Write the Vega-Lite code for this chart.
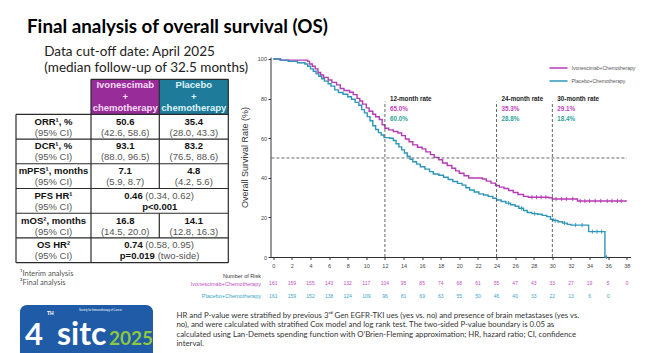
{
  "$schema": "https://vega.github.io/schema/vega-lite/v6.json",
  "width": 360,
  "height": 200,
  "autosize": {"type": "none"},
  "padding": {"left": 270.5, "top": 57, "right": 32.5, "bottom": 96},
  "background": "white",
  "config": {"view": {"stroke": null}, "font": "Liberation Sans"},
  "title": {
    "text": "Final analysis of overall survival (OS)",
    "subtitle": ["\u200b\u00a0\u00a0\u00a0\u00a0\u00a0Data cut-off date: April 2025", "\u200b\u00a0\u00a0\u00a0\u00a0\u00a0(median follow-up of 32.5 months)"],
    "anchor": "start",
    "frame": "group",
    "dx": -243.5,
    "offset": -18,
    "font": "Lato",
    "fontSize": 18.8,
    "fontWeight": "bold",
    "color": "#000000",
    "subtitleFont": "Lato",
    "subtitleFontSize": 13.5,
    "subtitleColor": "#222222",
    "subtitleLineHeight": 16,
    "subtitlePadding": 8
  },
  "datasets": {
    "km": [
      {"arm": "Ivonescimab+Chemotherapy", "month": 0, "pct": 100},
      {"arm": "Ivonescimab+Chemotherapy", "month": 0.8, "pct": 99.4},
      {"arm": "Ivonescimab+Chemotherapy", "month": 3.7, "pct": 98.8},
      {"arm": "Ivonescimab+Chemotherapy", "month": 3.9, "pct": 97.5},
      {"arm": "Ivonescimab+Chemotherapy", "month": 4.2, "pct": 96.3},
      {"arm": "Ivonescimab+Chemotherapy", "month": 4.5, "pct": 95},
      {"arm": "Ivonescimab+Chemotherapy", "month": 4.8, "pct": 93.2},
      {"arm": "Ivonescimab+Chemotherapy", "month": 5.1, "pct": 91.9},
      {"arm": "Ivonescimab+Chemotherapy", "month": 5.4, "pct": 90.7},
      {"arm": "Ivonescimab+Chemotherapy", "month": 5.9, "pct": 89.4},
      {"arm": "Ivonescimab+Chemotherapy", "month": 6.3, "pct": 88.2},
      {"arm": "Ivonescimab+Chemotherapy", "month": 6.8, "pct": 86.9},
      {"arm": "Ivonescimab+Chemotherapy", "month": 7.2, "pct": 85.1},
      {"arm": "Ivonescimab+Chemotherapy", "month": 7.6, "pct": 84.1},
      {"arm": "Ivonescimab+Chemotherapy", "month": 8.2, "pct": 83.2},
      {"arm": "Ivonescimab+Chemotherapy", "month": 8.6, "pct": 82},
      {"arm": "Ivonescimab+Chemotherapy", "month": 9, "pct": 80.1},
      {"arm": "Ivonescimab+Chemotherapy", "month": 9.3, "pct": 78.8},
      {"arm": "Ivonescimab+Chemotherapy", "month": 9.6, "pct": 77.2},
      {"arm": "Ivonescimab+Chemotherapy", "month": 10, "pct": 75.3},
      {"arm": "Ivonescimab+Chemotherapy", "month": 10.3, "pct": 73.6},
      {"arm": "Ivonescimab+Chemotherapy", "month": 10.7, "pct": 72.1},
      {"arm": "Ivonescimab+Chemotherapy", "month": 11, "pct": 70.8},
      {"arm": "Ivonescimab+Chemotherapy", "month": 11.4, "pct": 69.4},
      {"arm": "Ivonescimab+Chemotherapy", "month": 11.7, "pct": 66.8},
      {"arm": "Ivonescimab+Chemotherapy", "month": 12, "pct": 65},
      {"arm": "Ivonescimab+Chemotherapy", "month": 12.4, "pct": 64.2},
      {"arm": "Ivonescimab+Chemotherapy", "month": 12.9, "pct": 63.4},
      {"arm": "Ivonescimab+Chemotherapy", "month": 13.4, "pct": 62.6},
      {"arm": "Ivonescimab+Chemotherapy", "month": 13.8, "pct": 61.3},
      {"arm": "Ivonescimab+Chemotherapy", "month": 14.2, "pct": 59.6},
      {"arm": "Ivonescimab+Chemotherapy", "month": 14.6, "pct": 58.2},
      {"arm": "Ivonescimab+Chemotherapy", "month": 15, "pct": 56.6},
      {"arm": "Ivonescimab+Chemotherapy", "month": 15.5, "pct": 55.4},
      {"arm": "Ivonescimab+Chemotherapy", "month": 16, "pct": 54.6},
      {"arm": "Ivonescimab+Chemotherapy", "month": 16.4, "pct": 53.1},
      {"arm": "Ivonescimab+Chemotherapy", "month": 16.9, "pct": 51.7},
      {"arm": "Ivonescimab+Chemotherapy", "month": 17.3, "pct": 50.3},
      {"arm": "Ivonescimab+Chemotherapy", "month": 17.8, "pct": 49.1},
      {"arm": "Ivonescimab+Chemotherapy", "month": 18.2, "pct": 47.5},
      {"arm": "Ivonescimab+Chemotherapy", "month": 18.7, "pct": 46.2},
      {"arm": "Ivonescimab+Chemotherapy", "month": 19.2, "pct": 44.8},
      {"arm": "Ivonescimab+Chemotherapy", "month": 19.6, "pct": 43.5},
      {"arm": "Ivonescimab+Chemotherapy", "month": 20, "pct": 42.3},
      {"arm": "Ivonescimab+Chemotherapy", "month": 20.5, "pct": 41},
      {"arm": "Ivonescimab+Chemotherapy", "month": 21, "pct": 39.9},
      {"arm": "Ivonescimab+Chemotherapy", "month": 22.5, "pct": 39.4},
      {"arm": "Ivonescimab+Chemotherapy", "month": 22.9, "pct": 38.3},
      {"arm": "Ivonescimab+Chemotherapy", "month": 23.4, "pct": 37.3},
      {"arm": "Ivonescimab+Chemotherapy", "month": 23.9, "pct": 36.1},
      {"arm": "Ivonescimab+Chemotherapy", "month": 24.3, "pct": 35.3},
      {"arm": "Ivonescimab+Chemotherapy", "month": 24.8, "pct": 34.6},
      {"arm": "Ivonescimab+Chemotherapy", "month": 25.3, "pct": 33.6},
      {"arm": "Ivonescimab+Chemotherapy", "month": 25.8, "pct": 32.6},
      {"arm": "Ivonescimab+Chemotherapy", "month": 26.3, "pct": 31.6},
      {"arm": "Ivonescimab+Chemotherapy", "month": 26.9, "pct": 30.6},
      {"arm": "Ivonescimab+Chemotherapy", "month": 27.4, "pct": 30.2},
      {"arm": "Ivonescimab+Chemotherapy", "month": 29.6, "pct": 29.9},
      {"arm": "Ivonescimab+Chemotherapy", "month": 30, "pct": 29.3},
      {"arm": "Ivonescimab+Chemotherapy", "month": 32.7, "pct": 28.3},
      {"arm": "Ivonescimab+Chemotherapy", "month": 38, "pct": 28.3},
      {"arm": "Placebo+Chemotherapy", "month": 0, "pct": 100},
      {"arm": "Placebo+Chemotherapy", "month": 0.7, "pct": 99.4},
      {"arm": "Placebo+Chemotherapy", "month": 1.6, "pct": 98.8},
      {"arm": "Placebo+Chemotherapy", "month": 2.6, "pct": 98.1},
      {"arm": "Placebo+Chemotherapy", "month": 3.4, "pct": 97.5},
      {"arm": "Placebo+Chemotherapy", "month": 3.7, "pct": 96.3},
      {"arm": "Placebo+Chemotherapy", "month": 4, "pct": 95},
      {"arm": "Placebo+Chemotherapy", "month": 4.3, "pct": 93.8},
      {"arm": "Placebo+Chemotherapy", "month": 4.6, "pct": 92.5},
      {"arm": "Placebo+Chemotherapy", "month": 4.9, "pct": 91.3},
      {"arm": "Placebo+Chemotherapy", "month": 5.2, "pct": 90},
      {"arm": "Placebo+Chemotherapy", "month": 5.5, "pct": 88.8},
      {"arm": "Placebo+Chemotherapy", "month": 5.9, "pct": 87.5},
      {"arm": "Placebo+Chemotherapy", "month": 6.2, "pct": 86.3},
      {"arm": "Placebo+Chemotherapy", "month": 6.6, "pct": 84.4},
      {"arm": "Placebo+Chemotherapy", "month": 7, "pct": 83.1},
      {"arm": "Placebo+Chemotherapy", "month": 7.5, "pct": 82.2},
      {"arm": "Placebo+Chemotherapy", "month": 8, "pct": 80.9},
      {"arm": "Placebo+Chemotherapy", "month": 8.4, "pct": 79.7},
      {"arm": "Placebo+Chemotherapy", "month": 8.8, "pct": 78.1},
      {"arm": "Placebo+Chemotherapy", "month": 9.2, "pct": 76.6},
      {"arm": "Placebo+Chemotherapy", "month": 9.5, "pct": 74.4},
      {"arm": "Placebo+Chemotherapy", "month": 9.8, "pct": 72.8},
      {"arm": "Placebo+Chemotherapy", "month": 10.1, "pct": 70.9},
      {"arm": "Placebo+Chemotherapy", "month": 10.4, "pct": 68.8},
      {"arm": "Placebo+Chemotherapy", "month": 10.7, "pct": 66.3},
      {"arm": "Placebo+Chemotherapy", "month": 11, "pct": 64.4},
      {"arm": "Placebo+Chemotherapy", "month": 11.3, "pct": 62.8},
      {"arm": "Placebo+Chemotherapy", "month": 11.6, "pct": 61.6},
      {"arm": "Placebo+Chemotherapy", "month": 11.9, "pct": 60.3},
      {"arm": "Placebo+Chemotherapy", "month": 12.5, "pct": 60},
      {"arm": "Placebo+Chemotherapy", "month": 12.9, "pct": 58.8},
      {"arm": "Placebo+Chemotherapy", "month": 13.2, "pct": 57.2},
      {"arm": "Placebo+Chemotherapy", "month": 13.5, "pct": 55.6},
      {"arm": "Placebo+Chemotherapy", "month": 13.8, "pct": 54.1},
      {"arm": "Placebo+Chemotherapy", "month": 14.1, "pct": 52.5},
      {"arm": "Placebo+Chemotherapy", "month": 14.4, "pct": 50.9},
      {"arm": "Placebo+Chemotherapy", "month": 14.7, "pct": 49.4},
      {"arm": "Placebo+Chemotherapy", "month": 15, "pct": 48.1},
      {"arm": "Placebo+Chemotherapy", "month": 15.4, "pct": 46.9},
      {"arm": "Placebo+Chemotherapy", "month": 15.8, "pct": 45.6},
      {"arm": "Placebo+Chemotherapy", "month": 16.3, "pct": 44.4},
      {"arm": "Placebo+Chemotherapy", "month": 16.8, "pct": 43.1},
      {"arm": "Placebo+Chemotherapy", "month": 17.2, "pct": 41.9},
      {"arm": "Placebo+Chemotherapy", "month": 17.8, "pct": 41.3},
      {"arm": "Placebo+Chemotherapy", "month": 18.3, "pct": 40.3},
      {"arm": "Placebo+Chemotherapy", "month": 18.8, "pct": 39.1},
      {"arm": "Placebo+Chemotherapy", "month": 19.3, "pct": 38.1},
      {"arm": "Placebo+Chemotherapy", "month": 19.8, "pct": 37.2},
      {"arm": "Placebo+Chemotherapy", "month": 20.3, "pct": 36.3},
      {"arm": "Placebo+Chemotherapy", "month": 20.7, "pct": 35},
      {"arm": "Placebo+Chemotherapy", "month": 21.1, "pct": 33.8},
      {"arm": "Placebo+Chemotherapy", "month": 21.6, "pct": 32.8},
      {"arm": "Placebo+Chemotherapy", "month": 22.1, "pct": 31.9},
      {"arm": "Placebo+Chemotherapy", "month": 22.6, "pct": 31.3},
      {"arm": "Placebo+Chemotherapy", "month": 23.1, "pct": 30.6},
      {"arm": "Placebo+Chemotherapy", "month": 23.6, "pct": 29.7},
      {"arm": "Placebo+Chemotherapy", "month": 24, "pct": 28.8},
      {"arm": "Placebo+Chemotherapy", "month": 24.5, "pct": 28},
      {"arm": "Placebo+Chemotherapy", "month": 25, "pct": 27.2},
      {"arm": "Placebo+Chemotherapy", "month": 25.5, "pct": 26.4},
      {"arm": "Placebo+Chemotherapy", "month": 26, "pct": 25.6},
      {"arm": "Placebo+Chemotherapy", "month": 26.4, "pct": 24.6},
      {"arm": "Placebo+Chemotherapy", "month": 26.9, "pct": 23.5},
      {"arm": "Placebo+Chemotherapy", "month": 27.3, "pct": 22.5},
      {"arm": "Placebo+Chemotherapy", "month": 27.8, "pct": 21.9},
      {"arm": "Placebo+Chemotherapy", "month": 28.4, "pct": 21.6},
      {"arm": "Placebo+Chemotherapy", "month": 28.9, "pct": 21},
      {"arm": "Placebo+Chemotherapy", "month": 29.4, "pct": 20.4},
      {"arm": "Placebo+Chemotherapy", "month": 29.8, "pct": 19.1},
      {"arm": "Placebo+Chemotherapy", "month": 30.1, "pct": 18.4},
      {"arm": "Placebo+Chemotherapy", "month": 30.6, "pct": 17.8},
      {"arm": "Placebo+Chemotherapy", "month": 31.1, "pct": 17.1},
      {"arm": "Placebo+Chemotherapy", "month": 31.6, "pct": 16.5},
      {"arm": "Placebo+Chemotherapy", "month": 32, "pct": 16.1},
      {"arm": "Placebo+Chemotherapy", "month": 33.8, "pct": 16.1},
      {"arm": "Placebo+Chemotherapy", "month": 33.9, "pct": 12.8},
      {"arm": "Placebo+Chemotherapy", "month": 35.6, "pct": 12.8},
      {"arm": "Placebo+Chemotherapy", "month": 35.65, "pct": 0},
      {"arm": "Placebo+Chemotherapy", "month": 35.9, "pct": 0}
    ],
    "censor": [
      {"arm": "Ivonescimab+Chemotherapy", "month": 27.8, "pct": 30.2},
      {"arm": "Ivonescimab+Chemotherapy", "month": 28.3, "pct": 30.2},
      {"arm": "Ivonescimab+Chemotherapy", "month": 28.8, "pct": 30.2},
      {"arm": "Ivonescimab+Chemotherapy", "month": 29.3, "pct": 30.2},
      {"arm": "Ivonescimab+Chemotherapy", "month": 30.4, "pct": 29.3},
      {"arm": "Ivonescimab+Chemotherapy", "month": 31, "pct": 29.3},
      {"arm": "Ivonescimab+Chemotherapy", "month": 31.5, "pct": 29.3},
      {"arm": "Ivonescimab+Chemotherapy", "month": 32.2, "pct": 29.3},
      {"arm": "Ivonescimab+Chemotherapy", "month": 33, "pct": 28.3},
      {"arm": "Ivonescimab+Chemotherapy", "month": 33.5, "pct": 28.3},
      {"arm": "Ivonescimab+Chemotherapy", "month": 34, "pct": 28.3},
      {"arm": "Ivonescimab+Chemotherapy", "month": 34.6, "pct": 28.3},
      {"arm": "Ivonescimab+Chemotherapy", "month": 35.2, "pct": 28.3},
      {"arm": "Ivonescimab+Chemotherapy", "month": 35.9, "pct": 28.3},
      {"arm": "Ivonescimab+Chemotherapy", "month": 36.4, "pct": 28.3},
      {"arm": "Ivonescimab+Chemotherapy", "month": 37, "pct": 28.3},
      {"arm": "Ivonescimab+Chemotherapy", "month": 37.4, "pct": 28.3},
      {"arm": "Placebo+Chemotherapy", "month": 25.3, "pct": 27.2},
      {"arm": "Placebo+Chemotherapy", "month": 26.7, "pct": 24.6},
      {"arm": "Placebo+Chemotherapy", "month": 28.1, "pct": 21.9},
      {"arm": "Placebo+Chemotherapy", "month": 30.3, "pct": 18.4},
      {"arm": "Placebo+Chemotherapy", "month": 31.3, "pct": 17.1},
      {"arm": "Placebo+Chemotherapy", "month": 32.5, "pct": 16.1},
      {"arm": "Placebo+Chemotherapy", "month": 33.2, "pct": 16.1},
      {"arm": "Placebo+Chemotherapy", "month": 34.3, "pct": 12.8},
      {"arm": "Placebo+Chemotherapy", "month": 34.8, "pct": 12.8},
      {"arm": "Placebo+Chemotherapy", "month": 35.3, "pct": 12.8},
      {"arm": "Placebo+Chemotherapy", "month": 35.8, "pct": 0}
    ],
    "rates": [
      {"month": 12, "head": "12-month rate", "ivo": "65.0%", "pla": "60.0%"},
      {"month": 24, "head": "24-month rate", "ivo": "35.3%", "pla": "28.8%"},
      {"month": 30, "head": "30-month rate", "ivo": "29.1%", "pla": "18.4%"}
    ],
    "risk": [
      {"arm": "Ivonescimab+Chemotherapy", "month": 0, "n": 161},
      {"arm": "Ivonescimab+Chemotherapy", "month": 2, "n": 159},
      {"arm": "Ivonescimab+Chemotherapy", "month": 4, "n": 155},
      {"arm": "Ivonescimab+Chemotherapy", "month": 6, "n": 143},
      {"arm": "Ivonescimab+Chemotherapy", "month": 8, "n": 132},
      {"arm": "Ivonescimab+Chemotherapy", "month": 10, "n": 117},
      {"arm": "Ivonescimab+Chemotherapy", "month": 12, "n": 104},
      {"arm": "Ivonescimab+Chemotherapy", "month": 14, "n": 95},
      {"arm": "Ivonescimab+Chemotherapy", "month": 16, "n": 85},
      {"arm": "Ivonescimab+Chemotherapy", "month": 18, "n": 74},
      {"arm": "Ivonescimab+Chemotherapy", "month": 20, "n": 68},
      {"arm": "Ivonescimab+Chemotherapy", "month": 22, "n": 61},
      {"arm": "Ivonescimab+Chemotherapy", "month": 24, "n": 55},
      {"arm": "Ivonescimab+Chemotherapy", "month": 26, "n": 47},
      {"arm": "Ivonescimab+Chemotherapy", "month": 28, "n": 43},
      {"arm": "Ivonescimab+Chemotherapy", "month": 30, "n": 33},
      {"arm": "Ivonescimab+Chemotherapy", "month": 32, "n": 27},
      {"arm": "Ivonescimab+Chemotherapy", "month": 34, "n": 19},
      {"arm": "Ivonescimab+Chemotherapy", "month": 36, "n": 5},
      {"arm": "Ivonescimab+Chemotherapy", "month": 38, "n": 0},
      {"arm": "Placebo+Chemotherapy", "month": 0, "n": 161},
      {"arm": "Placebo+Chemotherapy", "month": 2, "n": 159},
      {"arm": "Placebo+Chemotherapy", "month": 4, "n": 152},
      {"arm": "Placebo+Chemotherapy", "month": 6, "n": 138},
      {"arm": "Placebo+Chemotherapy", "month": 8, "n": 124},
      {"arm": "Placebo+Chemotherapy", "month": 10, "n": 109},
      {"arm": "Placebo+Chemotherapy", "month": 12, "n": 96},
      {"arm": "Placebo+Chemotherapy", "month": 14, "n": 81},
      {"arm": "Placebo+Chemotherapy", "month": 16, "n": 69},
      {"arm": "Placebo+Chemotherapy", "month": 18, "n": 63},
      {"arm": "Placebo+Chemotherapy", "month": 20, "n": 55},
      {"arm": "Placebo+Chemotherapy", "month": 22, "n": 50},
      {"arm": "Placebo+Chemotherapy", "month": 24, "n": 46},
      {"arm": "Placebo+Chemotherapy", "month": 26, "n": 40},
      {"arm": "Placebo+Chemotherapy", "month": 28, "n": 33},
      {"arm": "Placebo+Chemotherapy", "month": 30, "n": 22},
      {"arm": "Placebo+Chemotherapy", "month": 32, "n": 13},
      {"arm": "Placebo+Chemotherapy", "month": 34, "n": 6},
      {"arm": "Placebo+Chemotherapy", "month": 36, "n": 0}
    ],
    "tbl": [
      {"r": 1, "col": 0, "b1": "ORR¹, %", "n2": "(95% CI)"},
      {"r": 1, "col": 1, "b1": "50.6", "n2": "(42.6, 58.6)"},
      {"r": 1, "col": 2, "b1": "35.4", "n2": "(28.0, 43.3)"},
      {"r": 2, "col": 0, "b1": "DCR¹, %", "n2": "(95% CI)"},
      {"r": 2, "col": 1, "b1": "93.1", "n2": "(88.0, 96.5)"},
      {"r": 2, "col": 2, "b1": "83.2", "n2": "(76.5, 88.6)"},
      {"r": 3, "col": 0, "b1": "mPFS¹, months", "n2": "(95% CI)"},
      {"r": 3, "col": 1, "b1": "7.1", "n2": "(5.9, 8.7)"},
      {"r": 3, "col": 2, "b1": "4.8", "n2": "(4.2, 5.6)"},
      {"r": 4, "col": 0, "b1": "PFS HR¹", "n2": "(95% CI)"},
      {"r": 4, "col": 1.5, "hb": "0.46", "hn": "(0.34, 0.62)", "pc": "p<0.001"},
      {"r": 5, "col": 0, "b1": "mOS², months", "n2": "(95% CI)"},
      {"r": 5, "col": 1, "b1": "16.8", "n2": "(14.5, 20.0)"},
      {"r": 5, "col": 2, "b1": "14.1", "n2": "(12.8, 16.3)"},
      {"r": 6, "col": 0, "b1": "OS HR²", "n2": "(95% CI)"},
      {"r": 6, "col": 1.5, "hb": "0.74", "hn": "(0.58, 0.95)", "pb": "p=0.019", "pn": "(two-side)"}
    ]
  },
  "layer": [
    {
      "layer": [
        {
          "data": {"name": "km"},
          "mark": {"type": "line", "interpolate": "step-after", "strokeWidth": 1.4},
          "encoding": {
            "x": {
              "field": "month", "type": "quantitative",
              "scale": {"domain": [-0.3, 38.4], "nice": false, "zero": false},
              "axis": {
                "values": [0, 2, 4, 6, 8, 10, 12, 14, 16, 18, 20, 22, 24, 26, 28, 30, 32, 34, 36, 38],
                "tickCount": 20, "labelOverlap": false, "labelFlush": false,
                "grid": false, "labelFontSize": 5.5, "labelColor": "#444444", "tickSize": 2.5,
                "labelPadding": 3.5, "domainColor": "#333333", "tickColor": "#333333",
                "title": [
                  "HR and P-value were stratified by previous 3ʳᵈ Gen EGFR-TKI ues (yes vs. no) and presence of brain metastases (yes vs.",
                  "no), and were calculated with stratified Cox model and log rank test. The two-sided P-value boundary is 0.05 as",
                  "calculated using Lan-Demets spending function with O’Brien-Fleming approximation; HR, hazard ratio; CI, confidence",
                  "interval."
                ],
                "titleX": -94.5, "titleY": 54.5, "titleAlign": "left", "titleAnchor": "start", "titleBaseline": "top",
                "titleFont": "Lato", "titleFontSize": 7.8, "titleFontWeight": "normal", "titleColor": "#333333",
                "titleLineHeight": 9.4, "titleLimit": 2000
              }
            },
            "y": {
              "field": "pct", "type": "quantitative",
              "scale": {"domain": [0, 101], "nice": false, "zero": false},
              "axis": {
                "values": [0, 10, 20, 30, 40, 50, 60, 70, 80, 90, 100],
                "tickCount": 10, "labelOverlap": false, "labelFlush": false,
                "grid": false, "title": "Overall Survival Rate (%)", "titleFontSize": 9, "titleFontWeight": "normal",
                "titleColor": "#333333", "titlePadding": 8, "labelFontSize": 5.5, "labelColor": "#444444",
                "tickSize": 2.5, "labelPadding": 1.5, "domainColor": "#333333", "tickColor": "#333333"
              }
            },
            "color": {
              "field": "arm", "type": "nominal",
              "scale": {"domain": ["Ivonescimab+Chemotherapy", "Placebo+Chemotherapy"], "range": ["#B53BB5", "#2E96B8"]},
              "legend": {
                "orient": "none", "legendX": 278, "legendY": 1, "title": null, "symbolType": "stroke",
                "symbolSize": 324, "symbolStrokeWidth": 1.5, "labelFontSize": 5, "labelColor": "#555555",
                "rowPadding": -12, "labelOffset": 3, "padding": 0
              }
            }
          }
        },
        {
          "data": {"values": [{"pct": 50}]},
          "mark": {"type": "rule", "strokeDash": [3, 2], "color": "#555555", "strokeWidth": 0.9},
          "encoding": {
            "y": {"field": "pct", "type": "quantitative"},
            "x": {"datum": -0.2, "type": "quantitative"},
            "x2": {"datum": 38}
          }
        },
        {
          "data": {"values": [{"month": 12}, {"month": 24}, {"month": 30}]},
          "mark": {"type": "rule", "strokeDash": [3, 2], "color": "#555555", "strokeWidth": 0.9},
          "encoding": {
            "x": {"field": "month", "type": "quantitative"},
            "y": {"datum": 0, "type": "quantitative"},
            "y2": {"datum": 78.5}
          }
        },
        {
          "data": {"name": "censor"},
          "mark": {"type": "point", "shape": "M0,-1L0,1", "size": 18, "filled": false, "strokeWidth": 0.9, "opacity": 1},
          "encoding": {
            "x": {"field": "month", "type": "quantitative"},
            "y": {"field": "pct", "type": "quantitative"},
            "color": {"field": "arm", "type": "nominal"}
          }
        },
        {
          "data": {"name": "rates"},
          "mark": {"type": "text", "align": "left", "baseline": "middle", "dx": 5, "fontSize": 6.3, "fontWeight": "bold", "color": "#222222"},
          "encoding": {
            "x": {"field": "month", "type": "quantitative"},
            "y": {"datum": 79.6, "type": "quantitative"},
            "text": {"field": "head"}
          }
        },
        {
          "data": {"name": "rates"},
          "mark": {"type": "text", "align": "left", "baseline": "middle", "dx": 5, "dy": 9.7, "fontSize": 6.3, "fontWeight": "bold", "color": "#C040C0"},
          "encoding": {
            "x": {"field": "month", "type": "quantitative"},
            "y": {"datum": 79.6, "type": "quantitative"},
            "text": {"field": "ivo"}
          }
        },
        {
          "data": {"name": "rates"},
          "mark": {"type": "text", "align": "left", "baseline": "middle", "dx": 5, "dy": 19.4, "fontSize": 6.3, "fontWeight": "bold", "color": "#2FA39B"},
          "encoding": {
            "x": {"field": "month", "type": "quantitative"},
            "y": {"datum": 79.6, "type": "quantitative"},
            "text": {"field": "pla"}
          }
        }
      ]
    },
    {
      "data": {"name": "risk"},
      "mark": {"type": "text", "fontSize": 5, "baseline": "middle"},
      "encoding": {
        "x": {"field": "month", "type": "quantitative", "scale": {"domain": [-0.3, 38.4], "nice": false, "zero": false}, "axis": null},
        "y": {
          "field": "arm", "type": "nominal",
          "scale": {"type": "point", "domain": ["Ivonescimab+Chemotherapy", "Placebo+Chemotherapy"], "range": [226.3, 238.7], "padding": 0},
          "axis": {
            "orient": "left", "domain": false, "ticks": false, "grid": false, "labelPadding": 10,
            "labelFontSize": 5.5,
            "labelColor": {"condition": {"test": "datum.value === 'Placebo+Chemotherapy'", "value": "#3AA6C6"}, "value": "#C24FC2"},
            "title": "Number of Risk", "titleAngle": 0, "titleAlign": "right", "titleBaseline": "middle",
            "titleX": -10, "titleY": 218, "titleFontSize": 5.5, "titleFontWeight": "normal", "titleColor": "#333333"
          }
        },
        "text": {"field": "n"},
        "color": {"condition": {"test": "datum.arm === 'Placebo+Chemotherapy'", "value": "#3AA6C6"}, "value": "#C24FC2"}
      }
    },
    {
      "layer": [
        {
          "data": {"values": [{"arm": "ivo", "c0": 1, "c1": 2}, {"arm": "pla", "c0": 2, "c1": 3}]},
          "mark": {"type": "rect"},
          "encoding": {
            "x": {"field": "c0", "type": "quantitative", "scale": {"domain": [0, 1, 2, 3], "range": [-254.5, -179.5, -111.2, -42.2], "nice": false, "zero": false}, "axis": null},
            "x2": {"field": "c1"},
            "y": {"datum": 0, "type": "quantitative", "scale": {"domain": [0, 1, 7], "range": [22.3, 57.3, 205.7], "nice": false, "zero": false}, "axis": null},
            "y2": {"datum": 1},
            "color": {"condition": {"test": "datum.arm === 'pla'", "value": "#1E7B99"}, "value": "#982C98"}
          }
        },
        {
          "data": {"values": [
            {"r": 0, "a": 1, "b": 3}, {"r": 1, "a": 0, "b": 3}, {"r": 2, "a": 0, "b": 3}, {"r": 3, "a": 0, "b": 3},
            {"r": 4, "a": 0, "b": 3}, {"r": 5, "a": 0, "b": 3}, {"r": 6, "a": 0, "b": 3}, {"r": 7, "a": 0, "b": 3}
          ]},
          "mark": {"type": "rule", "color": "#2A2A2A", "strokeWidth": 1.2},
          "encoding": {
            "y": {"field": "r", "type": "quantitative"},
            "x": {"field": "a", "type": "quantitative"},
            "x2": {"field": "b"}
          }
        },
        {
          "data": {"values": [
            {"c": 0, "a": 1, "b": 7}, {"c": 1, "a": 0, "b": 7}, {"c": 2, "a": 0, "b": 4},
            {"c": 2, "a": 5, "b": 6}, {"c": 3, "a": 0, "b": 7}
          ]},
          "mark": {"type": "rule", "color": "#2A2A2A", "strokeWidth": 1.2},
          "encoding": {
            "x": {"field": "c", "type": "quantitative"},
            "y": {"field": "a", "type": "quantitative"},
            "y2": {"field": "b"}
          }
        },
        {
          "data": {"values": [{"note": ["¹Interim analysis", "²Final analysis"]}]},
          "mark": {"type": "text", "align": "left", "baseline": "top", "font": "Lato", "fontSize": 7.5, "lineHeight": 9, "color": "#555555"},
          "encoding": {
            "x": {"datum": 0.053, "type": "quantitative"},
            "y": {"datum": 7.3, "type": "quantitative"},
            "text": {"field": "note"}
          }
        },
        {
          "data": {"values": [{"logo": "SITC 2025", "n": "4", "th": "TH", "name": "sitc", "yr": "2025", "soc": "Society for Immunotherapy of Cancer"}]},
          "layer": [
            {
              "mark": {"type": "rect", "color": "#1F5BA6", "cornerRadius": 7},
              "encoding": {
                "x": {"datum": 0.053, "type": "quantitative"},
                "x2": {"datum": 1.908},
                "y": {"datum": 8.71, "type": "quantitative"},
                "y2": {"datum": 10.93}
              }
            },
            {
              "mark": {"type": "text", "align": "left", "baseline": "alphabetic", "font": "Lato", "fontSize": 31, "fontWeight": "bold", "color": "#FFFFFF"},
              "encoding": {
                "x": {"datum": 0.12, "type": "quantitative"},
                "y": {"datum": 10.33, "type": "quantitative"},
                "text": {"field": "n"}
              }
            },
            {
              "mark": {"type": "text", "align": "left", "baseline": "alphabetic", "font": "Lato", "fontSize": 32, "fontWeight": "bold", "color": "#FFFFFF"},
              "encoding": {
                "x": {"datum": 0.547, "type": "quantitative"},
                "y": {"datum": 10.33, "type": "quantitative"},
                "text": {"field": "name"}
              }
            },
            {
              "mark": {"type": "text", "align": "left", "baseline": "alphabetic", "font": "Lato", "fontSize": 19, "fontWeight": "bold", "color": "#8DC63F"},
              "encoding": {
                "x": {"datum": 1.264, "type": "quantitative"},
                "y": {"datum": 10.33, "type": "quantitative"},
                "text": {"field": "yr"}
              }
            },
            {
              "mark": {"type": "text", "align": "left", "baseline": "middle", "fontSize": 5, "fontWeight": "bold", "color": "#FFFFFF"},
              "encoding": {
                "x": {"datum": 0.413, "type": "quantitative"},
                "y": {"datum": 9.05, "type": "quantitative"},
                "text": {"field": "th"}
              }
            },
            {
              "mark": {"type": "text", "align": "left", "baseline": "middle", "fontSize": 2.6, "color": "#FFFFFF"},
              "encoding": {
                "x": {"datum": 0.84, "type": "quantitative"},
                "y": {"datum": 8.91, "type": "quantitative"},
                "text": {"field": "soc"}
              }
            }
          ]
        }
      ]
    },
    {
      "data": {"name": "tbl"},
      "layer": [
        {
          "data": {"values": [
            {"col": 1, "arm": "ivo", "lines": ["Ivonescimab", "+", "chemotherapy"]},
            {"col": 2, "arm": "pla", "lines": ["Placebo", "+", "chemotherapy"]}
          ]},
          "mark": {"type": "text", "baseline": "middle", "fontSize": 9.5, "fontWeight": "bold", "lineHeight": 11.7, "dy": 5.7},
          "encoding": {
            "x": {"field": "col", "type": "quantitative", "scale": {"domain": [0, 1, 1.5, 2], "range": [-217, -145.3, -110.8, -76.7], "nice": false, "zero": false}, "axis": null},
            "y": {"datum": 0, "type": "quantitative", "scale": {"domain": [0, 1, 7], "range": [22.3, 57.3, 205.7], "nice": false, "zero": false}, "axis": null},
            "text": {"field": "lines"},
            "color": {"condition": {"test": "datum.arm === 'pla'", "value": "#DDF3FA"}, "value": "#F6DDF6"}
          }
        },
        {
          "transform": [{"filter": "datum.b1"}],
          "mark": {"type": "text", "baseline": "middle", "fontSize": 9.5, "fontWeight": "bold", "color": "#111111", "dy": 7.3},
          "encoding": {
            "x": {"field": "col", "type": "quantitative"},
            "y": {"field": "r", "type": "quantitative"},
            "text": {"field": "b1"}
          }
        },
        {
          "transform": [{"filter": "datum.n2"}],
          "mark": {"type": "text", "baseline": "middle", "fontSize": 9.5, "color": "#555555", "dy": 18.3},
          "encoding": {
            "x": {"field": "col", "type": "quantitative"},
            "y": {"field": "r", "type": "quantitative"},
            "text": {"field": "n2"}
          }
        },
        {
          "transform": [{"filter": "datum.hb"}],
          "mark": {"type": "text", "baseline": "middle", "align": "right", "fontSize": 9.5, "fontWeight": "bold", "color": "#111111", "dx": -17, "dy": 7.3},
          "encoding": {
            "x": {"field": "col", "type": "quantitative"},
            "y": {"field": "r", "type": "quantitative"},
            "text": {"field": "hb"}
          }
        },
        {
          "transform": [{"filter": "datum.hn"}],
          "mark": {"type": "text", "baseline": "middle", "align": "left", "fontSize": 9.5, "color": "#555555", "dx": -14.4, "dy": 7.3},
          "encoding": {
            "x": {"field": "col", "type": "quantitative"},
            "y": {"field": "r", "type": "quantitative"},
            "text": {"field": "hn"}
          }
        },
        {
          "transform": [{"filter": "datum.pc"}],
          "mark": {"type": "text", "baseline": "middle", "fontSize": 9.5, "fontWeight": "bold", "color": "#111111", "dy": 18.3},
          "encoding": {
            "x": {"field": "col", "type": "quantitative"},
            "y": {"field": "r", "type": "quantitative"},
            "text": {"field": "pc"}
          }
        },
        {
          "transform": [{"filter": "datum.pb"}],
          "mark": {"type": "text", "baseline": "middle", "align": "right", "fontSize": 9.5, "fontWeight": "bold", "color": "#111111", "dx": -4.8, "dy": 18.3},
          "encoding": {
            "x": {"field": "col", "type": "quantitative"},
            "y": {"field": "r", "type": "quantitative"},
            "text": {"field": "pb"}
          }
        },
        {
          "transform": [{"filter": "datum.pn"}],
          "mark": {"type": "text", "baseline": "middle", "align": "left", "fontSize": 9.5, "color": "#555555", "dx": -2, "dy": 18.3},
          "encoding": {
            "x": {"field": "col", "type": "quantitative"},
            "y": {"field": "r", "type": "quantitative"},
            "text": {"field": "pn"}
          }
        }
      ]
    }
  ],
  "resolve": {"scale": {"x": "independent", "y": "independent"}}
}
